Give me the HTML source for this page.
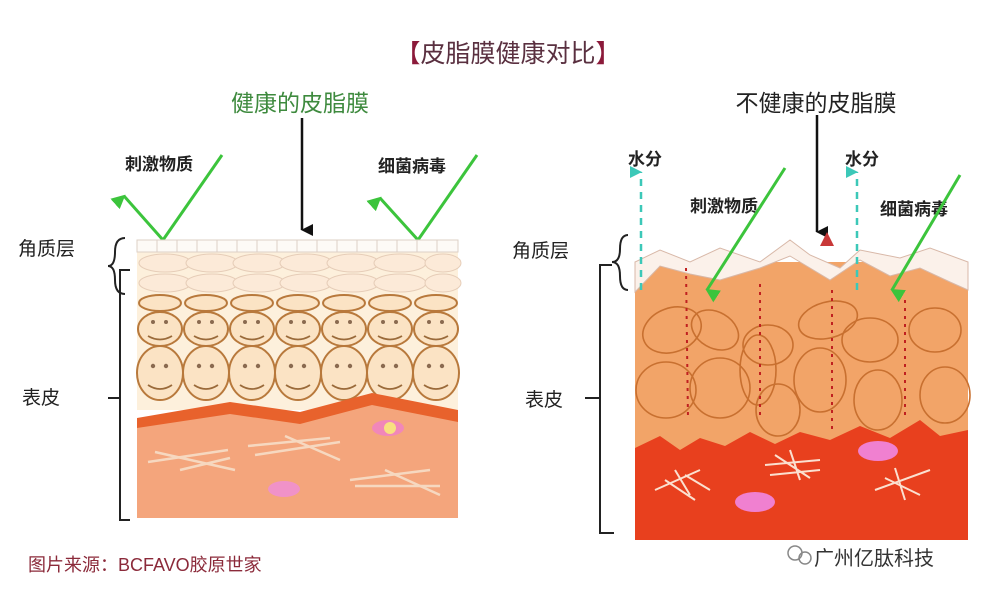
<!DOCTYPE html>
<html><head><meta charset="utf-8"><style>
html,body{margin:0;padding:0;background:#fff;}
svg{display:block;}
text{font-family:"Liberation Sans","Noto Sans CJK SC",sans-serif;}
</style></head><body>
<svg width="998" height="600" viewBox="0 0 998 600" xmlns="http://www.w3.org/2000/svg">
<defs>
<marker id="ab" markerWidth="12" markerHeight="12" refX="6" refY="11" orient="auto" markerUnits="userSpaceOnUse"><path d="M0,0 L12,0 L6,12 z" fill="#111"/></marker>
<marker id="ag" markerWidth="14" markerHeight="14" refX="7" refY="12" orient="auto-start-reverse" markerUnits="userSpaceOnUse"><path d="M0,0 L14,0 L7,14 z" fill="#3cc43c"/></marker>
<marker id="ac" markerWidth="12" markerHeight="12" refX="6" refY="11" orient="auto" markerUnits="userSpaceOnUse"><path d="M0,0 L12,0 L6,12 z" fill="#3cc8b8"/></marker>
</defs>
<text x="508" y="62" font-size="25" text-anchor="middle" fill="#5a3040"><tspan fill="#8b1a3a">【</tspan>皮脂膜健康对比<tspan fill="#8b1a3a">】</tspan></text>
<text x="300" y="111" font-size="23" text-anchor="middle" fill="#3e8a3e">健康的皮脂膜</text>
<text x="816" y="111" font-size="23" text-anchor="middle" fill="#222">不健康的皮脂膜</text>
<line x1="302" y1="118" x2="302" y2="230" stroke="#111" stroke-width="2.5" marker-end="url(#ab)"/>
<line x1="817" y1="115" x2="817" y2="232" stroke="#111" stroke-width="2.5" marker-end="url(#ab)"/>

<text x="125" y="170" font-size="17" font-weight="bold" fill="#222">刺激物质</text>
<text x="378" y="172" font-size="17" font-weight="bold" fill="#222">细菌病毒</text>
<polyline points="222,155 163,240" fill="none" stroke="#3cc43c" stroke-width="3"/>
<line x1="163" y1="240" x2="124" y2="196" stroke="#3cc43c" stroke-width="3" marker-end="url(#ag)"/>
<polyline points="477,155 418,240" fill="none" stroke="#3cc43c" stroke-width="3"/>
<line x1="418" y1="240" x2="380" y2="198" stroke="#3cc43c" stroke-width="3" marker-end="url(#ag)"/>

<text x="18" y="255" font-size="19" fill="#222">角质层</text>
<text x="22" y="404" font-size="19" fill="#222">表皮</text>
<path d="M125,238 Q115,238 115,252 Q115,266 108,266 Q115,266 115,280 Q115,294 125,294" fill="none" stroke="#222" stroke-width="2"/>
<path d="M130,270 L120,270 L120,520 L130,520 M108,398 L120,398" fill="none" stroke="#222" stroke-width="2"/>

<rect x="137" y="240" width="321" height="170" fill="#fdf0dc"/>
<rect x="137" y="240" width="321" height="12" fill="#fdfaf6" stroke="#ddd0c6" stroke-width="1"/>
<g stroke="#ddd0c6" stroke-width="1">
<line x1="157" y1="240" x2="157" y2="252"/><line x1="177" y1="240" x2="177" y2="252"/><line x1="197" y1="240" x2="197" y2="252"/><line x1="217" y1="240" x2="217" y2="252"/><line x1="237" y1="240" x2="237" y2="252"/><line x1="257" y1="240" x2="257" y2="252"/><line x1="277" y1="240" x2="277" y2="252"/><line x1="297" y1="240" x2="297" y2="252"/><line x1="317" y1="240" x2="317" y2="252"/><line x1="337" y1="240" x2="337" y2="252"/><line x1="357" y1="240" x2="357" y2="252"/><line x1="377" y1="240" x2="377" y2="252"/><line x1="397" y1="240" x2="397" y2="252"/><line x1="417" y1="240" x2="417" y2="252"/><line x1="437" y1="240" x2="437" y2="252"/>
</g>
<g fill="#fcead8" stroke="#e6cdb8" stroke-width="1">
<ellipse cx="165" cy="263" rx="26" ry="9"/><ellipse cx="212" cy="263" rx="26" ry="9"/><ellipse cx="259" cy="263" rx="26" ry="9"/><ellipse cx="306" cy="263" rx="26" ry="9"/><ellipse cx="353" cy="263" rx="26" ry="9"/><ellipse cx="400" cy="263" rx="26" ry="9"/><ellipse cx="443" cy="263" rx="18" ry="9"/>
<ellipse cx="165" cy="283" rx="26" ry="9"/><ellipse cx="212" cy="283" rx="26" ry="9"/><ellipse cx="259" cy="283" rx="26" ry="9"/><ellipse cx="306" cy="283" rx="26" ry="9"/><ellipse cx="353" cy="283" rx="26" ry="9"/><ellipse cx="400" cy="283" rx="26" ry="9"/><ellipse cx="443" cy="283" rx="18" ry="9"/>
</g>
<g fill="#fbe3c4" stroke="#b8793c" stroke-width="2">
<ellipse cx="160" cy="303" rx="21" ry="8"/><ellipse cx="206" cy="303" rx="21" ry="8"/><ellipse cx="252" cy="303" rx="21" ry="8"/><ellipse cx="298" cy="303" rx="21" ry="8"/><ellipse cx="344" cy="303" rx="21" ry="8"/><ellipse cx="390" cy="303" rx="21" ry="8"/><ellipse cx="436" cy="303" rx="21" ry="8"/>
<ellipse cx="160" cy="329" rx="22" ry="17"/><ellipse cx="206" cy="329" rx="22" ry="17"/><ellipse cx="252" cy="329" rx="22" ry="17"/><ellipse cx="298" cy="329" rx="22" ry="17"/><ellipse cx="344" cy="329" rx="22" ry="17"/><ellipse cx="390" cy="329" rx="22" ry="17"/><ellipse cx="436" cy="329" rx="22" ry="17"/>
<ellipse cx="160" cy="373" rx="23" ry="27"/><ellipse cx="206" cy="373" rx="23" ry="27"/><ellipse cx="252" cy="373" rx="23" ry="27"/><ellipse cx="298" cy="373" rx="23" ry="27"/><ellipse cx="344" cy="373" rx="23" ry="27"/><ellipse cx="390" cy="373" rx="23" ry="27"/><ellipse cx="436" cy="373" rx="23" ry="27"/>
</g>
<g fill="#8a6a50">
<circle cx="153" cy="322" r="2"/><circle cx="166" cy="322" r="2"/><circle cx="199" cy="322" r="2"/><circle cx="212" cy="322" r="2"/><circle cx="245" cy="322" r="2"/><circle cx="258" cy="322" r="2"/><circle cx="291" cy="322" r="2"/><circle cx="304" cy="322" r="2"/><circle cx="337" cy="322" r="2"/><circle cx="350" cy="322" r="2"/><circle cx="383" cy="322" r="2"/><circle cx="396" cy="322" r="2"/><circle cx="429" cy="322" r="2"/><circle cx="442" cy="322" r="2"/>
<circle cx="153" cy="366" r="2.2"/><circle cx="166" cy="366" r="2.2"/><circle cx="199" cy="366" r="2.2"/><circle cx="212" cy="366" r="2.2"/><circle cx="245" cy="366" r="2.2"/><circle cx="258" cy="366" r="2.2"/><circle cx="291" cy="366" r="2.2"/><circle cx="304" cy="366" r="2.2"/><circle cx="337" cy="366" r="2.2"/><circle cx="350" cy="366" r="2.2"/><circle cx="383" cy="366" r="2.2"/><circle cx="396" cy="366" r="2.2"/><circle cx="429" cy="366" r="2.2"/><circle cx="442" cy="366" r="2.2"/>
</g>
<g fill="none" stroke="#9a6a3a" stroke-width="1.8">
<path d="M148,336 Q160,343 172,336 M194,336 Q206,343 218,336 M240,336 Q252,343 264,336 M286,336 Q298,343 310,336 M332,336 Q344,343 356,336 M378,336 Q390,343 402,336 M424,336 Q436,343 448,336"/>
<path d="M148,385 Q160,393 172,385 M194,385 Q206,393 218,385 M240,385 Q252,393 264,385 M286,385 Q298,393 310,385 M332,385 Q344,393 356,385 M378,385 Q390,393 402,385 M424,385 Q436,393 448,385"/>
</g>
<path d="M137,418 L230,402 L300,412 L372,393 L458,410 L458,518 L137,518 Z" fill="#e8622c"/>
<path d="M137,428 L230,414 L300,424 L372,405 L458,422 L458,518 L137,518 Z" fill="#f4a57c"/>
<g stroke="#f6d8c0" stroke-width="2.5">
<line x1="148" y1="462" x2="228" y2="450"/><line x1="155" y1="452" x2="235" y2="470"/><line x1="180" y1="470" x2="230" y2="458"/>
<line x1="248" y1="446" x2="330" y2="438"/><line x1="255" y1="455" x2="340" y2="442"/><line x1="285" y1="436" x2="340" y2="460"/>
<line x1="350" y1="480" x2="430" y2="470"/><line x1="355" y1="486" x2="440" y2="486"/><line x1="385" y1="470" x2="440" y2="495"/>
</g>
<ellipse cx="388" cy="428" rx="16" ry="8" fill="#f080c8" opacity="0.8"/><circle cx="390" cy="428" r="6" fill="#f8e080"/>
<ellipse cx="284" cy="489" rx="16" ry="8" fill="#f090d0" opacity="0.9"/>

<text x="512" y="257" font-size="19" fill="#222">角质层</text>
<text x="525" y="406" font-size="19" fill="#222">表皮</text>
<path d="M628,235 Q620,235 620,249 Q620,262 612,262 Q620,262 620,276 Q620,290 628,290" fill="none" stroke="#222" stroke-width="2"/>
<path d="M612,265 L600,265 L600,533 L614,533 M585,398 L600,398" fill="none" stroke="#222" stroke-width="2"/>

<rect x="635" y="262" width="333" height="278" fill="#f2a468"/>
<path d="M635,262 L660,250 L690,262 L720,248 L760,262 L790,240 L810,255 L840,268 L860,250 L900,258 L930,248 L968,262 L968,290 L950,282 L920,268 L890,276 L860,260 L830,280 L790,256 L760,268 L720,280 L690,274 L660,266 L635,292 Z" fill="#fbf1ea" stroke="#d8b8a8" stroke-width="1"/>
<g fill="none" stroke="#c87030" stroke-width="1.6">
<ellipse cx="672" cy="330" rx="30" ry="22" transform="rotate(-20 672 330)"/><ellipse cx="666" cy="390" rx="30" ry="28"/><ellipse cx="720" cy="388" rx="30" ry="30"/><ellipse cx="715" cy="330" rx="25" ry="18" transform="rotate(30 715 330)"/>
<ellipse cx="768" cy="345" rx="25" ry="20"/><ellipse cx="778" cy="410" rx="22" ry="26"/><ellipse cx="758" cy="370" rx="18" ry="35"/>
<ellipse cx="820" cy="380" rx="26" ry="32"/><ellipse cx="828" cy="320" rx="30" ry="18" transform="rotate(-15 828 320)"/>
<ellipse cx="870" cy="340" rx="28" ry="22"/><ellipse cx="878" cy="400" rx="24" ry="30"/><ellipse cx="935" cy="330" rx="26" ry="22"/><ellipse cx="945" cy="395" rx="25" ry="28"/>
</g>
<path d="M635,448 L660,436 L680,450 L700,438 L725,446 L750,432 L775,444 L800,432 L830,440 L860,426 L890,438 L920,420 L940,436 L968,430 L968,540 L635,540 Z" fill="#e8401e"/>
<g stroke="#fbe0d0" stroke-width="2" fill="none">
<path d="M655,490 L700,470 M665,480 L695,500 M675,470 L690,495 M685,475 L710,490"/>
<path d="M765,465 L820,460 M775,455 L810,478 M790,450 L800,480 M770,475 L820,470"/>
<path d="M875,490 L930,470 M885,478 L920,495 M895,468 L905,500"/>
</g>
<ellipse cx="755" cy="502" rx="20" ry="10" fill="#f080d0"/>
<ellipse cx="878" cy="451" rx="20" ry="10" fill="#f080d0"/>
<g stroke="#c02020" stroke-width="2" stroke-dasharray="3,5">
<line x1="686" y1="268" x2="688" y2="420"/><line x1="760" y1="284" x2="760" y2="420"/><line x1="832" y1="290" x2="832" y2="430"/><line x1="905" y1="300" x2="905" y2="420"/>
</g>
<path d="M820,246 L827,232 L834,246 Z" fill="#c83838"/>
<text x="628" y="165" font-size="17" font-weight="bold" fill="#222">水分</text>
<text x="845" y="165" font-size="17" font-weight="bold" fill="#222">水分</text>
<line x1="641" y1="290" x2="641" y2="172" stroke="#3cc8b8" stroke-width="2.5" stroke-dasharray="7,6" marker-end="url(#ac)"/>
<line x1="857" y1="290" x2="857" y2="172" stroke="#3cc8b8" stroke-width="2.5" stroke-dasharray="7,6" marker-end="url(#ac)"/>
<text x="690" y="212" font-size="17" font-weight="bold" fill="#222">刺激物质</text>
<text x="880" y="215" font-size="17" font-weight="bold" fill="#222">细菌病毒</text>
<line x1="785" y1="168" x2="707" y2="290" stroke="#3cc43c" stroke-width="3" marker-end="url(#ag)"/>
<line x1="960" y1="175" x2="892" y2="290" stroke="#3cc43c" stroke-width="3" marker-end="url(#ag)"/>

<text x="28" y="571" font-size="18" fill="#8b2a3a">图片来源：BCFAVO胶原世家</text>
<circle cx="795" cy="553" r="7" fill="none" stroke="#888" stroke-width="1.5"/><circle cx="805" cy="558" r="6" fill="none" stroke="#888" stroke-width="1.5"/>
<text x="814" y="565" font-size="20" fill="#333">广州亿肽科技</text>
</svg>
</body></html>
